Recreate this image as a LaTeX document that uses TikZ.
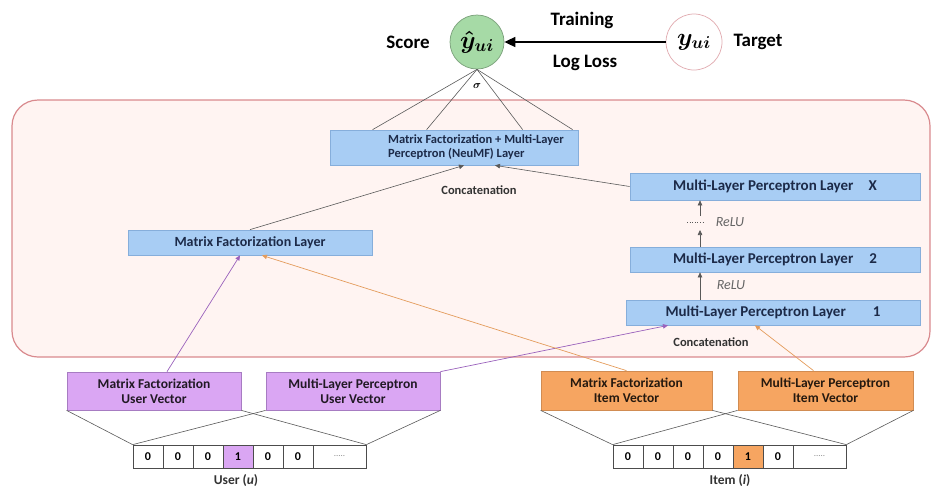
\documentclass[tikz,border=0pt]{standalone}
\usepackage{fontspec}
\setmainfont{Carlito}
\usepackage{tikz}
\usetikzlibrary{arrows.meta}
\tikzset{every picture/.style={line width=0.75pt}}

\definecolor{framered}{HTML}{D98A8E}
\definecolor{framefill}{HTML}{FFF4F2}
\definecolor{layerblue}{HTML}{A8CDF4}
\definecolor{layeredge}{HTML}{86AEDB}
\definecolor{layertext}{HTML}{1C2A48}
\definecolor{userpurple}{HTML}{DAA6F3}
\definecolor{useredge}{HTML}{A77CC2}
\definecolor{userline}{HTML}{9A62BC}
\definecolor{itemorange}{HTML}{F6A561}
\definecolor{itemline}{HTML}{E49C5C}
\definecolor{scoregreen}{HTML}{A6DAA6}
\definecolor{targetpink}{HTML}{E2AEB3}

\tikzset{
  layerbox/.style={draw=layeredge, fill=layerblue, inner sep=2pt, text=layertext,
    font=\bfseries\fontsize{14}{15}\selectfont},
  mlpbox/.style={layerbox, font=\bfseries\fontsize{15}{16}\selectfont},
  vecbox/.style={minimum width=174pt, minimum height=38pt, inner sep=2pt, align=center,
    font=\bfseries\fontsize{13.5}{15}\selectfont},
  uservec/.style={vecbox, draw=useredge, fill=userpurple, text=black!85!userpurple},
  itemvec/.style={vecbox, draw=itemorange!85!black, fill=itemorange, text=black!85!itemorange},
  cell/.style={draw=black!70, minimum width=30pt, minimum height=23pt, inner sep=0pt,
    font=\bfseries\fontsize{12}{14}\selectfont},
  usercell/.style={cell, fill=userpurple},
  itemcell/.style={cell, fill=itemorange},
  dotcell/.style={cell, minimum width=53pt, text=black!45, font=\fontsize{9}{10}\selectfont},
  wire/.style={draw=black!65, line width=0.6pt},
  tip/.style={-{Triangle[length=5pt,width=4.5pt]}},
  caption/.style={text=black!80, font=\bfseries\fontsize{12.5}{14}\selectfont},
  relu/.style={text=black!60, font=\itshape\fontsize{14}{15}\selectfont},
  headline/.style={font=\bfseries\fontsize{19}{21}\selectfont},
}

\begin{document}
\begin{tikzpicture}[x=1pt,y=-1pt]
\useasboundingbox (0,0) rectangle (933,488);
% model frame
\draw[draw=framered, fill=framefill, line width=1.2pt, rounded corners=26pt] (12,100) rectangle (930,357);
%
\node[circle, draw=scoregreen!75!black, fill=scoregreen, minimum size=54pt, inner sep=0pt,
  font=\boldmath\fontsize{23}{25}\selectfont] (score) at (477,42) {$\hat{y}_{ui}$};
\node[circle, draw=targetpink, fill=white, minimum size=56pt, inner sep=0pt,
  font=\boldmath\fontsize{23}{25}\selectfont] (target) at (694,42) {$y_{ui}$};
\node[headline] (scorelbl) at (408,42) {Score};
\node[headline] (targetlbl) at (758,42) {Target};
\node[headline] (training) at (582,20) {Training};
\node[headline] (logloss) at (585,63) {Log Loss};
\node[font=\boldmath\fontsize{11}{12}\selectfont] (sigma) at (477,86) {$\sigma$};
\draw[line width=1.6pt, -{Triangle[length=11pt,width=10pt]}] (target) -- (score);
%
\node[layerbox, minimum width=248pt, minimum height=35pt] (neumf) at (454,147.5) {};
\node[layerbox, draw=none, fill=none, align=left, font=\bfseries\fontsize{12.5}{14}\selectfont]
  (neumftext) at (476,147.5) {Matrix Factorization + Multi-Layer\\Perceptron (NeuMF) Layer};
\foreach \dx in {43,97,193,243}
\draw[wire] (score.south) -- ([xshift=\dx pt]neumf.north west);
\node[caption] (concat1) at (479,190) {Concatenation};
%
\node[layerbox, minimum width=244pt, minimum height=25pt] (mflayer) at (250,242.5) {Matrix Factorization Layer};
\node[mlpbox, minimum width=290pt, minimum height=27pt] (mlpx) at (775,186.5) {Multi-Layer Perceptron Layer\hspace{15pt}X};
\node[mlpbox, minimum width=290pt, minimum height=25pt] (mlp2) at (775,259.5) {Multi-Layer Perceptron Layer\hspace{16pt}2};
\node[mlpbox, minimum width=294pt, minimum height=25pt] (mlp1) at (773,312.5) {Multi-Layer Perceptron Layer\hspace{27pt}1};
\node[caption] (concat2) at (711,342) {Concatenation};
%
\draw[wire, tip] (mflayer.north) -- ([xshift=10pt]neumf.south);
\draw[wire, tip] (mlpx.west) -- ([xshift=41pt]neumf.south);
%
\draw[wire, tip] ([xshift=-73pt]mlp1.north) -- ([xshift=-75pt]mlp2.south);
\node[relu] (relu1) at (731,285) {ReLU};
\coordinate (gaplo) at (700,230);
\coordinate (gaphi) at (700,216);
\draw[wire, tip] ([xshift=-75pt]mlp2.north) -- (gaplo);
\draw[wire, tip] (gaphi) -- ([xshift=-75pt]mlpx.south);
\draw[wire, dotted] (687,222) -- (704,222);
\node[relu] (relu2) at (730,222) {ReLU};
%
\node[uservec] (ufmf) at (154,391) {Matrix Factorization\\User Vector};
\node[uservec] (umlp) at (353,391) {Multi-Layer Perceptron\\User Vector};
\node[itemvec, minimum width=171pt, minimum height=39pt] (imf) at (626.5,390.5) {Matrix Factorization\\Item Vector};
\node[itemvec, minimum width=175pt, minimum height=39pt] (imlp) at (825.5,390.5) {Multi-Layer Perceptron\\Item Vector};
%
\draw[userline, line width=0.7pt, tip] ([xshift=13pt]ufmf.north) -- ([xshift=-10pt]mflayer.south);
\draw[userline, line width=0.7pt, tip] (umlp.north east) -- ([xshift=-105pt]mlp1.south);
\draw[itemline, line width=0.7pt, tip] (imf.north) -- ([xshift=12pt]mflayer.south);
\draw[itemline, line width=0.7pt, tip] ([xshift=-12pt]imlp.north) -- ([xshift=-18pt]mlp1.south);
%
% one-hot inputs
\foreach \v/\s [count=\k] in {0/cell,0/cell,0/cell,1/usercell,0/cell,0/cell}
\node[\s] (u\k) at (118+30*\k,456.5) {\v};
\node[dotcell] (u7) at (339.5,456.5) {.....};
\foreach \v/\s [count=\k] in {0/cell,0/cell,0/cell,0/cell,1/itemcell,0/cell}
\node[\s] (i\k) at (598+30*\k,456.5) {\v};
\node[dotcell] (i7) at (819.5,456.5) {.....};
\node[caption, font=\bfseries\fontsize{13.5}{15}\selectfont] (userlbl) at (236,481) {User (\textit{u})};
\node[caption, font=\bfseries\fontsize{13.5}{15}\selectfont] (itemlbl) at (730,481) {Item (\textit{i})};
%
\foreach \Source/\Target in {%
	ufmf.south west/u1.north west,
	ufmf.south east/u7.north east,
	umlp.south west/u1.north west,
	umlp.south east/u7.north east,
	imf.south west/i1.north west,
	imf.south east/i7.north east,
	imlp.south west/i1.north west,
	imlp.south east/i7.north east%
    }
\draw[wire] (\Source) to (\Target);
\end{tikzpicture}
\end{document}
